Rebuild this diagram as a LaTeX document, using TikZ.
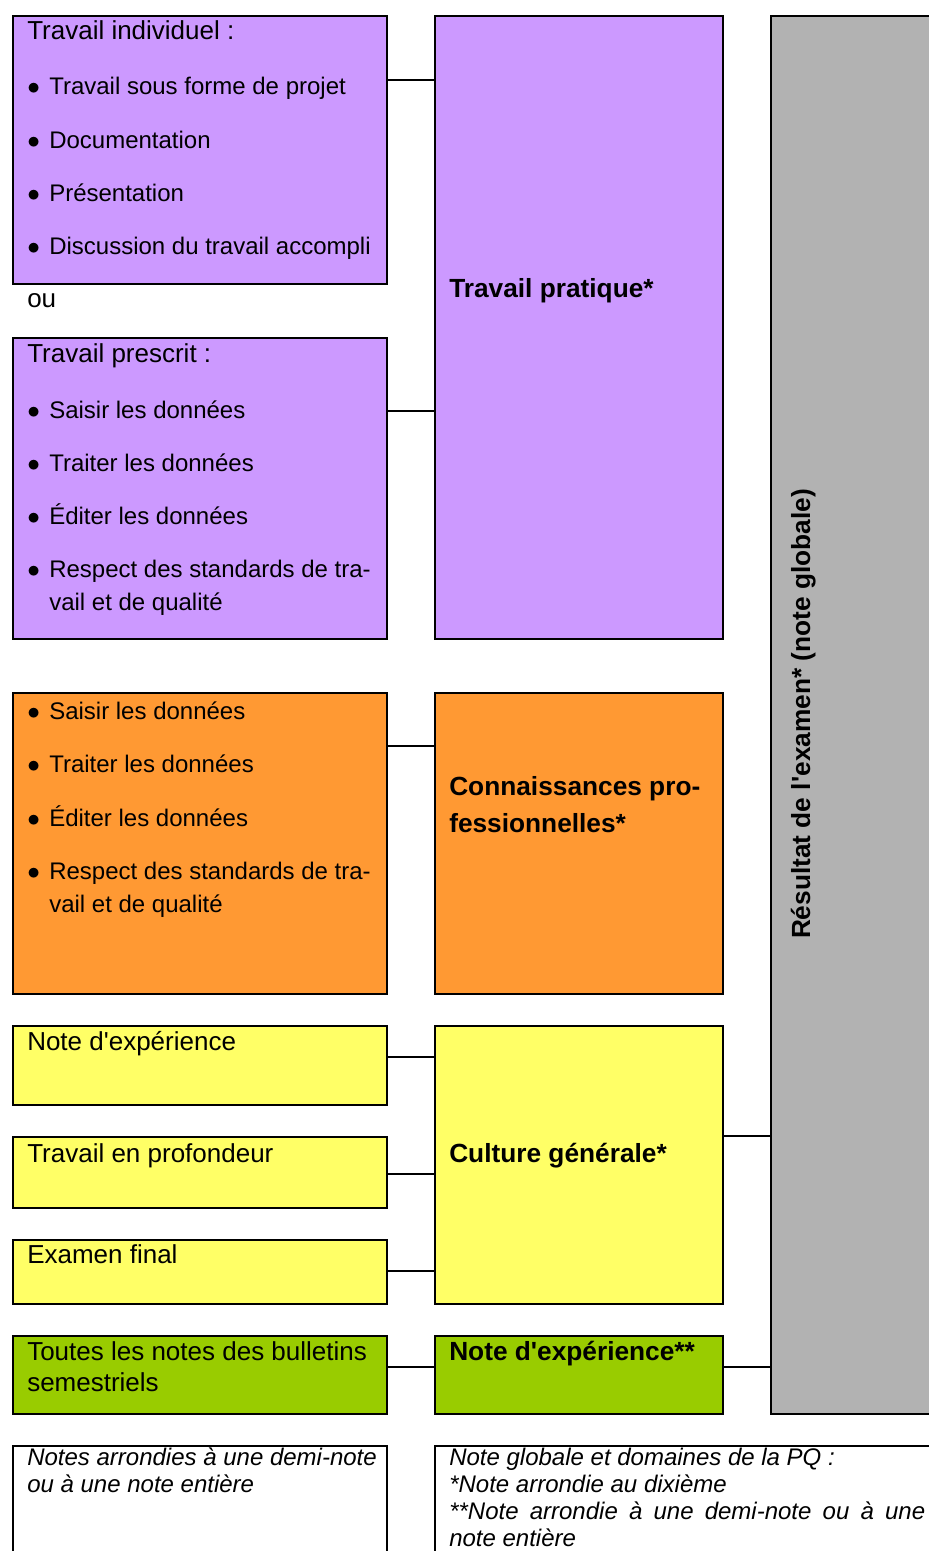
\documentclass[tikz,border=0pt]{standalone}
\usepackage{fontspec}
\setmainfont{Liberation Sans}
\usepackage{xcolor}
\definecolor{mviolet}{HTML}{CC99FF}
\definecolor{morange}{HTML}{FF9933}
\definecolor{mjaune}{HTML}{FFFF66}
\definecolor{mvert}{HTML}{99CC00}
\definecolor{mgris}{HTML}{B2B2B2}
\tikzset{boite/.style 2 args = {draw, line width = 1.5pt, rectangle, inner sep = 0,
                                anchor = north west,
                                minimum width = #1*0.75pt, minimum height = #2*0.75pt}}
\tikzset{lien/.style = {line width = 1.5pt}}
\tikzset{texte/.style = {anchor = base west, inner sep = 0,
                         font = \fontsize{18}{24.75}\selectfont}}
\tikzset{titre/.style = {texte, font = \fontsize{19.5}{23.25}\selectfont}}
\tikzset{gras/.style = {texte, font = \fontsize{19.7}{27.75}\selectfont\bfseries}}
\tikzset{remarque/.style = {texte, font = \fontsize{18}{20.25}\selectfont\itshape}}
\newcommand\lignes[1]{\begin{tabular}[t]{@{}l@{}}#1\end{tabular}}
\newcommand\puce[1]{\makebox[16.5pt][l]{\scalebox{1.1}{$\bullet$}}\lignes{#1}}

\begin{document}
\begin{tikzpicture}[x = 0.75pt, y = -0.75pt]
    \useasboundingbox (0, 0) rectangle (928, 1551);

    % boites
    \node [boite = {374}{268}, fill = mviolet] (indiv) at (12, 15) {};
    \node [boite = {374}{301}, fill = mviolet] (prescrit) at (12, 337) {};
    \node [boite = {288}{623}, fill = mviolet] (pratique) at (434, 15) {};
    \node [boite = {374}{301}, fill = morange] (savoir) at (12, 692) {};
    \node [boite = {288}{301}, fill = morange] (connaissances) at (434, 692) {};
    \node [boite = {374}{79}, fill = mjaune] (experience) at (12, 1025) {};
    \node [boite = {374}{71}, fill = mjaune] (profondeur) at (12, 1136) {};
    \node [boite = {374}{64}, fill = mjaune] (final) at (12, 1239) {};
    \node [boite = {288}{278}, fill = mjaune] (culture) at (434, 1025) {};
    \node [boite = {374}{78}, fill = mvert] (bulletins) at (12, 1335) {};
    \node [boite = {288}{78}, fill = mvert] (noteexp) at (434, 1335) {};
    \node [boite = {200}{1398}, fill = mgris] (resultat) at (770, 15) {};
    \node [boite = {374}{150}] (arrondi) at (12, 1445) {};
    \node [boite = {520}{150}] (globale) at (434, 1445) {};

    % liens
    \draw [lien] (indiv.east |- 0, 80) -- (pratique.west |- 0, 80);
    \draw [lien] (prescrit.east |- 0, 411) -- (pratique.west |- 0, 411);
    \draw [lien] (savoir.east |- 0, 746) -- (connaissances.west |- 0, 746);
    \draw [lien] (experience.east |- 0, 1057) -- (culture.west |- 0, 1057);
    \draw [lien] (profondeur.east |- 0, 1174) -- (culture.west |- 0, 1174);
    \draw [lien] (final.east |- 0, 1271) -- (culture.west |- 0, 1271);
    \draw [lien] (bulletins.east |- 0, 1367) -- (noteexp.west |- 0, 1367);
    \draw [lien] (culture.east |- 0, 1136) -- (resultat.west |- 0, 1136);
    \draw [lien] (noteexp.east |- 0, 1367) -- (resultat.west |- 0, 1367);

    % textes
    \node [titre] (t-indiv) at (27, 40) {Travail individuel :};
    \foreach \t [count = \i from 0] in {Travail sous forme de projet, Documentation,
                                       Présentation, Discussion du travail accompli}
      \node [texte] (t-indiv-\i) at (27, 95 + \i * 53.3) {\puce{\t}};
    \node [titre] (t-ou) at (27, 307) {ou};
    \node [titre] (t-prescrit) at (27, 362) {Travail prescrit :};
    \foreach \t [count = \i from 0] in {Saisir les données, Traiter les données, Éditer les données,
                                       {Respect des standards de tra-\\vail et de qualité}}
      \node [texte] (t-prescrit-\i) at (27, 418 + \i * 53) {\puce{\t}};
    \foreach \t [count = \i from 0] in {Saisir les données, Traiter les données, Éditer les données,
                                       {Respect des standards de tra-\\vail et de qualité}}
      \node [texte] (t-savoir-\i) at (27, 719 + \i * 53.5) {\puce{\t}};
    \node [titre] (t-experience) at (27, 1050) {Note d\textquotesingle expérience};
    \node [titre] (t-profondeur) at (27, 1162) {Travail en profondeur};
    \node [titre] (t-final) at (27, 1263) {Examen final};
    \node [titre] (t-bulletins) at (27, 1360)
      {\lignes{Toutes les notes des bulletins\\semestriels}};

    \node [gras] (t-pratique) at (449, 298) {Travail pratique*};
    \node [gras] (t-connaissances) at (449, 795) {\lignes{Connaissances pro-\\fessionnelles*}};
    \node [gras] (t-culture) at (449, 1162) {Culture générale*};
    \node [gras] (t-noteexp) at (449, 1360) {Note d\textquotesingle expérience**};
    \node [gras, rotate = 90, anchor = base] (t-resultat) at (810, 714)
      {Résultat de l\textquotesingle examen* (note globale)};

    \node [remarque] (t-arrondi) at (27, 1465)
      {\lignes{Notes arrondies à une demi-note\\ou à une note entière}};
    \node [remarque] (t-globale) at (449, 1465)
      {\lignes{Note globale et domaines de la PQ :\\{}*Note arrondie au dixième\\
               \makebox[357pt][s]{**Note arrondie à une demi-note ou à une}\\note entière}};
  \end{tikzpicture}
\end{document}
